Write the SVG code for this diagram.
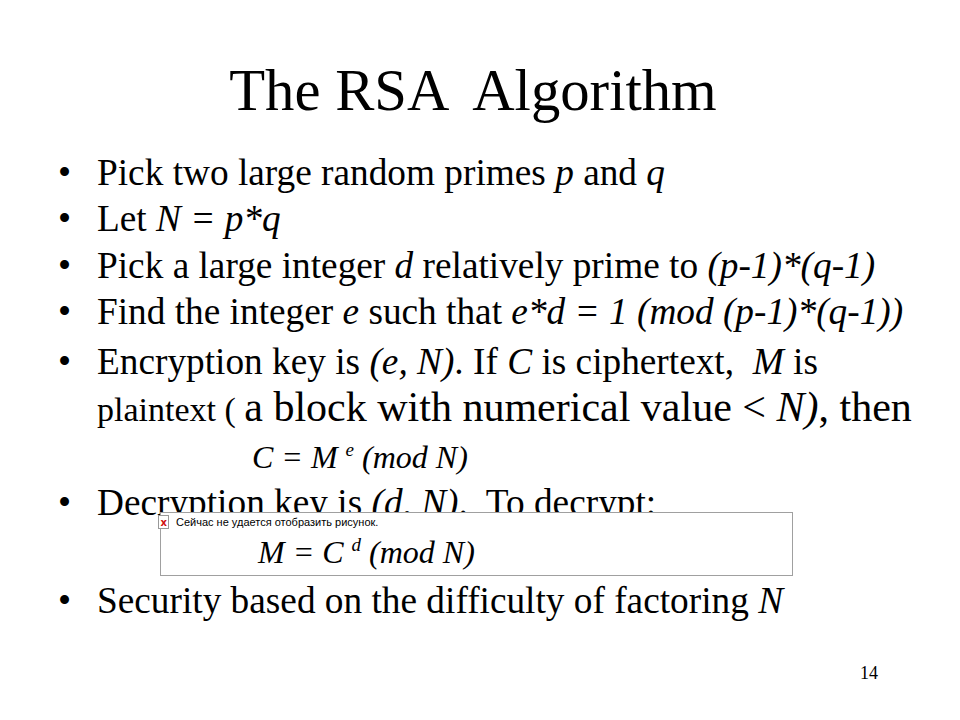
<svg xmlns="http://www.w3.org/2000/svg" width="960" height="720" viewBox="0 0 960 720">
<style>
.t{font-family:"Liberation Serif","Times New Roman",serif;fill:#000}
.b{font-size:37.3px}
.i{font-style:italic}
</style>
<rect width="960" height="720" fill="#fff"/>
<g id="title"><text class="t" x="473" y="110" font-size="58.7" text-anchor="middle" xml:space="preserve">The RSA  Algorithm</text></g>
<g id="bullets">
<text class="t b" x="58" y="185">•</text>
<text class="t b" x="97" y="185">Pick two large random primes <tspan class="i">p</tspan> and <tspan class="i">q</tspan></text>
<text class="t b" x="58" y="231">•</text>
<text class="t b" x="97" y="231">Let <tspan class="i">N = p*q</tspan></text>
<text class="t b" x="58" y="278">•</text>
<text class="t b" x="97" y="278">Pick a large integer <tspan class="i">d</tspan> relatively prime to <tspan class="i">(p-1)*(q-1)</tspan></text>
<text class="t b" x="58" y="324">•</text>
<text class="t b" x="97" y="324">Find the integer <tspan class="i">e</tspan> such that <tspan class="i">e*d = 1 (mod (p-1)*(q-1))</tspan></text>
<text class="t b" x="58" y="374">•</text>
<text class="t b" x="97" y="374" xml:space="preserve">Encryption key is <tspan class="i">(e, N)</tspan>. If <tspan class="i">C</tspan> is ciphertext,  <tspan class="i">M</tspan> is</text>
<text class="t" x="97" y="421" font-size="34">plaintext ( <tspan font-size="42">a block with numerical value &lt; <tspan class="i">N)</tspan>, then</tspan></text>
<text class="t i" x="252" y="468" font-size="32">C = M <tspan font-size="19" dy="-12">e</tspan><tspan dy="12"> (mod N)</tspan></text>
<text class="t b" x="58" y="515">•</text>
<text class="t b" x="97" y="515" xml:space="preserve">Decryption key is <tspan class="i">(d, N)</tspan>.  To decrypt:</text>
<text class="t b" x="58" y="613">•</text>
<text class="t b" x="97" y="613">Security based on the difficulty of factoring <tspan class="i">N</tspan></text>
</g>
<g id="image-box">
<rect x="160.5" y="512.5" width="632" height="63" fill="#fff" stroke="#a0a0a0" stroke-width="1"/>
<rect x="158.5" y="515.5" width="10" height="13" fill="#fff" stroke="#999" stroke-width="1"/>
<text x="160.5" y="526" font-family="DejaVu Sans,sans-serif" font-size="10" font-weight="bold" fill="#d01010">x</text>
<text x="176" y="526" font-family="Liberation Sans,Arial,sans-serif" font-size="11" fill="#000">Сейчас не удается отобразить рисунок.</text>
<text class="t i" x="258" y="563" font-size="32">M = C <tspan font-size="19" dy="-12">d</tspan><tspan dy="12"> (mod N)</tspan></text>
</g>
<g id="page"><text class="t" x="860" y="679" font-size="18">14</text></g>
</svg>
